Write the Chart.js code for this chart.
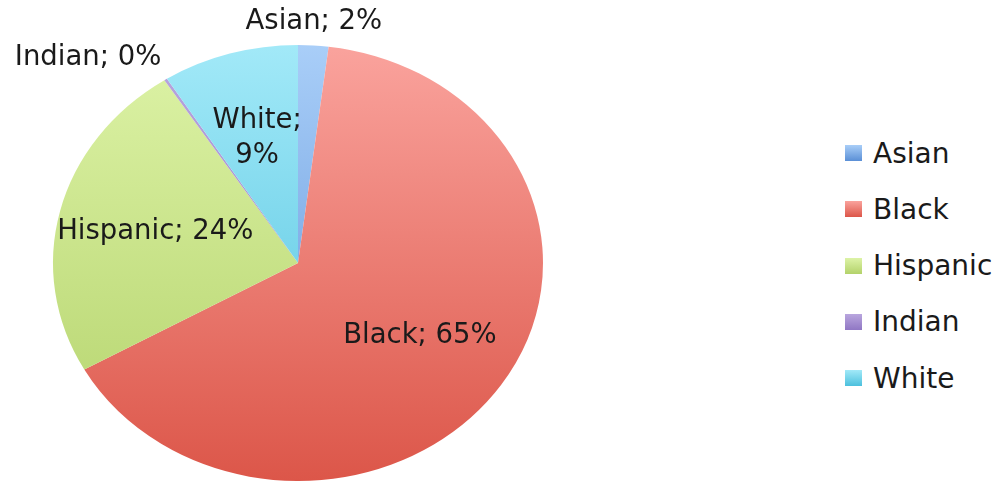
<!DOCTYPE html>
<html>
<head>
<meta charset="utf-8">
<script src="https://cdn.jsdelivr.net/npm/chart.js@4/dist/chart.umd.min.js"></script>
<style>
  html, body { margin: 0; padding: 0; background: #fff; }
  #wrap { position: relative; width: 998px; height: 484px; overflow: hidden; }
  #pie-box { position: absolute; left: 0; top: 0; width: 596px; height: 484px; }
  #legend { position: absolute; left: 845px; top: 125px; margin: 0; padding: 0; list-style: none;
            font-family: "DejaVu Sans", sans-serif; font-size: 28px; color: #1a1a1a; }
  #legend li { height: 56.25px; display: flex; align-items: center; white-space: nowrap; }
  #legend .sw { width: 17px; height: 16px; margin-right: 11px; }
</style>
</head>
<body>
<div id="wrap">
  <div id="pie-box"><canvas id="pie"></canvas></div>
  <ul id="legend"></ul>
</div>
<script>
const LABELS = ['Asian', 'Black', 'Hispanic', 'Indian', 'White'];
const SHARES = [2, 65, 24, 0.2, 9];
// colours run light at the top of the pie to darker at the bottom
const TOP_COLORS = ['#a9cef8', '#faa39d', '#ddf3a7', '#b9a6de', '#a2e9f8'];
const BOTTOM_COLORS = ['#5a8fd6', '#dc5649', '#b3d26a', '#9077c4', '#4cc0dd'];

const FONT = '"DejaVu Sans", sans-serif';
const X_STRETCH = 245 / 218;   // the reference pie is a little wider than tall

function sliceFill(context) {
  const i = context.dataIndex;
  const area = context.chart.chartArea;
  if (!area) return TOP_COLORS[i];
  const g = context.chart.ctx.createLinearGradient(0, area.top, 0, area.bottom);
  g.addColorStop(0, TOP_COLORS[i]);
  g.addColorStop(1, BOTTOM_COLORS[i]);
  return g;
}

// squash the circle into the same ellipse as the picture
const ellipse = {
  id: 'ellipse',
  beforeDatasetsDraw(chart) {
    const arc = chart.getDatasetMeta(0).data[0];
    const ctx = chart.ctx;
    ctx.save();
    ctx.translate(arc.x, 0);
    ctx.scale(X_STRETCH, 1);
    ctx.translate(-arc.x, 0);
  },
  afterDatasetsDraw(chart) {
    chart.ctx.restore();
  }
};

// "Name; NN%" labels, inside for big slices and just outside the rim for small ones
const sliceLabels = {
  id: 'sliceLabels',
  afterDatasetsDraw(chart) {
    const ctx = chart.ctx;
    const data = chart.data.datasets[0].data;
    ctx.save();
    ctx.font = '27.5px ' + FONT;
    ctx.fillStyle = '#1a1a1a';
    chart.getDatasetMeta(0).data.forEach((arc, i) => {
      const v = data[i];
      const name = chart.data.labels[i];
      const pct = Math.round(v) + '%';
      const mid = (arc.startAngle + arc.endAngle) / 2;
      const c = Math.cos(mid), s = Math.sin(mid);
      const r = arc.outerRadius;
      if (v >= 5) {
        const f = 0.6;
        const x = arc.x + c * r * f * X_STRETCH;
        const y = arc.y + s * r * f;
        ctx.textAlign = 'center';
        ctx.textBaseline = 'middle';
        if (v < 15) {
          ctx.fillText(name + ';', x, y - 17);
          ctx.fillText(pct, x, y + 18);
        } else {
          ctx.fillText(name + '; ' + pct, x, y);
        }
      } else {
        const x = arc.x + c * (r * X_STRETCH + 8);
        const y = arc.y + s * (r + 10);
        ctx.textAlign = Math.abs(c) < 0.25 ? 'center' : (c > 0 ? 'left' : 'right');
        ctx.textBaseline = s < 0 ? 'bottom' : 'top';
        ctx.fillText(name + '; ' + pct, x, y);
      }
    });
    ctx.restore();
  }
};

const chart = new Chart(document.getElementById('pie'), {
  type: 'pie',
  data: {
    labels: LABELS,
    datasets: [{
      data: SHARES,
      backgroundColor: sliceFill,
      borderWidth: 0
    }]
  },
  options: {
    responsive: true,
    maintainAspectRatio: false,
    animation: false,
    layout: { padding: { top: 45, bottom: 3, left: 0, right: 0 } },
    plugins: {
      legend: { display: false },
      tooltip: { enabled: false }
    }
  },
  plugins: [ellipse, sliceLabels]
});

// legend kept as html so it can sit well to the right of the pie
const legend = document.getElementById('legend');
legend.innerHTML = chart.data.labels.map((l, i) =>
  `<li><span class="sw" style="background:linear-gradient(${TOP_COLORS[i]}, ${BOTTOM_COLORS[i]})"></span>${l}</li>`
).join('');
</script>
</body>
</html>
